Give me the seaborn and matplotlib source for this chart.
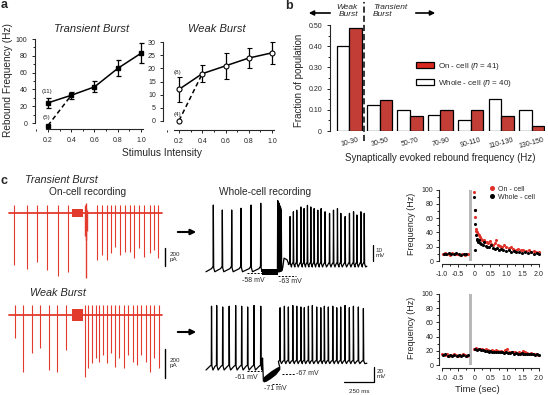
import numpy as np
import pandas as pd
import matplotlib
matplotlib.use('Agg')
import matplotlib.pyplot as plt
import matplotlib.transforms as mtransforms
from matplotlib.patches import Patch
from matplotlib.lines import Line2D
from matplotlib.ticker import MultipleLocator
import seaborn as sns

sns.set_style('ticks')
plt.rcParams['font.family'] = ['Liberation Sans', 'DejaVu Sans']
plt.rcParams['axes.linewidth'] = 0.8

W, H = 548, 395
RED = '#d9281f'
TRACE_RED = '#e23a2c'

# ---------------- panel a: rebound frequency vs stimulus intensity
intensity = [0.2, 0.4, 0.6, 0.8, 1.0]
tb_freq = [24, 33, 43, 65, 83]
tb_err = [6, 4.5, 6.5, 9.5, 12]
tb_low = -3          # cells without rebound at 0.2 (n=5)
wb_freq = [12, 18, 21, 24, 26]
wb_err = [4.8, 3.2, 5, 3.7, 4.3]
wb_low = 0           # cells without rebound at 0.2 (n=4)

# ---------------- panel b: histogram of rebound frequency
bins = ['10-30', '30-50', '50-70', '70-90', '90-110', '110-130', '130-150']
on_cell_frac = [0.488, 0.146, 0.073, 0.098, 0.098, 0.073, 0.024]
whole_cell_frac = [0.400, 0.125, 0.100, 0.075, 0.050, 0.150, 0.100]

# ---------------- panel c: on-cell traces (ms, pA)
oc1_t = [39, 145, 233, 317, 406, 489, 734, 770, 812, 848, 884, 923, 962,
         1001, 1040, 1084, 1123, 1168, 1207, 1240]
oc1_depth = [574, 618, 537, 629, 696, 648, 518, 463, 518, 444, 370, 463, 433,
             426, 492, 381, 481, 444, 407, 500]
oc1_burst_t = [630, 636, 642, 648]
oc1_burst_depth = [250, 722, 300, 200]
oc1_burst_up = [90, 110, 60, 40]
oc1_stim = [520, 617]

oc2_t = [47, 117, 186, 256, 331, 400, 470, 631, 659, 692, 720, 748, 784, 812,
         848, 881, 917, 951, 987, 1026, 1062, 1095, 1137, 1173, 1207, 1243]
oc2_depth = [161, 391, 265, 230, 380, 391, 242, 426, 368, 334, 299, 322, 276,
             334, 265, 357, 299, 368, 276, 322, 345, 276, 322, 391, 299, 368]
oc2_stim = [525, 617]

# whole-cell traces (ms, mV)
wc1_pre_t = [61, 136, 214, 292, 375, 456]
wc1_pre_peak = [-16.8, -19.9, -19.9, -18.8, -16.8, -15.7]
wc1_burst_t = [597, 602, 607, 612, 617, 622, 627]
wc1_burst_peak = [-14, -14.5, -15.5, -16.5, -17.5, -18.5, -20]
wc1_post_t = [700, 728, 756, 790, 817, 845, 873, 901, 931, 959, 992, 1029,
              1062, 1095, 1123, 1159, 1195, 1229, 1257, 1290, 1318]
wc1_post_peak = [-24, -21, -20, -18, -19, -17, -18, -19, -20, -19, -21, -22,
                 -20, -19, -22, -24, -22, -21, -23, -21, -22]

wc2_pre_t = [46, 89, 139, 193, 247, 297, 347, 400, 456]
wc2_pre_peak = [24, 25, 23, 24, 25, 24, 23, 25, 24]
wc2_post_t = [617, 653, 686, 723, 756, 790, 819, 853, 886, 922, 956, 986,
              1019, 1056, 1089, 1122, 1158, 1194, 1228, 1269, 1311]
wc2_post_peak = [22, 24, 23, 25, 24, 23, 22, 24, 25, 23, 22, 24, 23, 24, 22,
                 23, 25, 22, 24, 23, 21]
wc2_hyp_t = [478, 500, 540, 580, 615]
wc2_hyp_top = [-70, -67, -62, -58, -55]
wc2_hyp_bot = [-77, -76, -72, -67, -60]

# instantaneous frequency (s, Hz)
tb_on_t = [-0.98, -0.91, -0.84, -0.76, -0.69, -0.61, -0.53, -0.45, -0.37, -0.29, -0.21,
           0.00, 0.01, 0.02, 0.04, 0.06, 0.08, 0.11, 0.14, 0.17, 0.21, 0.25, 0.29, 0.33,
           0.38, 0.43, 0.48, 0.53, 0.58, 0.63, 0.68, 0.74, 0.80, 0.86, 0.92, 0.99, 1.06,
           1.13, 1.20, 1.28, 1.36, 1.44, 1.52, 1.60, 1.68, 1.76, 1.84, 1.92, 2.00]
tb_on_f = [10, 11, 10, 9, 11, 10, 10, 9, 10, 9, 10,
           97, 72, 62, 45, 42, 40, 38, 36, 33, 31, 29, 30, 27,
           26, 25, 28, 24, 23, 25, 29, 22, 21, 20, 22, 19, 18,
           19, 17, 16, 17, 15, 16, 14, 15, 13, 14, 13, 12]
tb_wc_t = [-0.95, -0.87, -0.79, -0.72, -0.64, -0.56, -0.48, -0.40, -0.33, -0.25,
           0.00, 0.01, 0.02, 0.03, 0.05, 0.07, 0.09, 0.12, 0.15, 0.18, 0.22, 0.26,
           0.30, 0.35, 0.40, 0.45, 0.51, 0.57, 0.63, 0.69, 0.76, 0.83, 0.90, 0.98,
           1.06, 1.14, 1.22, 1.30, 1.39, 1.48, 1.57, 1.66, 1.75, 1.84, 1.93, 2.00]
tb_wc_f = [10, 10, 11, 10, 10, 11, 10, 9, 10, 10,
           90, 71, 52, 15, 36, 31, 29, 27, 30, 25, 24, 22,
           26, 21, 20, 19, 22, 18, 17, 18, 16, 17, 15, 14,
           16, 13, 14, 12, 13, 11, 12, 11, 12, 10, 11, 10]

wb_on_t = [-0.99, -0.92, -0.85, -0.78, -0.71, -0.64, -0.57, -0.50, -0.43, -0.36, -0.29, -0.22,
           0.00, 0.06, 0.12, 0.18, 0.24, 0.30, 0.36, 0.42, 0.48, 0.54, 0.60, 0.66, 0.72,
           0.78, 0.84, 0.90, 0.96, 1.02, 1.08, 1.14, 1.20, 1.26, 1.32, 1.38, 1.44, 1.50,
           1.56, 1.62, 1.68, 1.74, 1.80, 1.86, 1.92, 1.98]
wb_on_f = [15, 14, 15, 13, 14, 15, 14, 13, 14, 15, 14, 13,
           23, 24, 22, 23, 22, 21, 22, 21, 20, 21, 20, 21, 20,
           19, 20, 19, 21, 22, 19, 18, 19, 18, 17, 18, 17, 20,
           19, 17, 16, 17, 16, 15, 15, 14]
wb_wc_t = [-0.97, -0.90, -0.83, -0.76, -0.69, -0.62, -0.55, -0.48, -0.41, -0.34, -0.27, -0.20,
           0.02, 0.08, 0.14, 0.20, 0.26, 0.32, 0.38, 0.44, 0.50, 0.56, 0.62, 0.68, 0.74,
           0.80, 0.86, 0.92, 0.98, 1.04, 1.10, 1.16, 1.22, 1.28, 1.34, 1.40, 1.46, 1.52,
           1.58, 1.64, 1.70, 1.76, 1.82, 1.88, 1.94, 2.00]
wb_wc_f = [14, 15, 13, 14, 13, 14, 13, 14, 13, 14, 13, 14,
           22, 21, 22, 21, 21, 20, 20, 19, 20, 19, 19, 18, 19,
           18, 18, 17, 18, 17, 17, 18, 16, 17, 16, 16, 17, 16,
           16, 15, 16, 15, 15, 14, 15, 14]
stim_t, stim_w = -0.12, 0.07


fig = plt.figure(figsize=(W / 100, H / 100), dpi=100)


def box(x0, y0, x1, y1):
    return fig.add_axes([x0 / W, 1 - y1 / H, (x1 - x0) / W, (y1 - y0) / H])


def F(x, y):
    return (x / W, 1 - y / H)


def ftext(x, y, s, **kw):
    kw.setdefault('ha', 'center')
    kw.setdefault('va', 'center')
    fig.text(x / W, 1 - y / H, s, **kw)


def style_ax(ax, size=5, ypad=3, xpad=3.5):
    sns.despine(ax=ax)
    ax.tick_params(labelsize=size, length=2.2, width=0.7)
    ax.tick_params(axis='y', pad=ypad)
    ax.tick_params(axis='x', pad=xpad)
    ax.tick_params(which='minor', length=1.4, width=0.7)


def spike_train(xs, ys, times, peaks, base, trough):
    for t, p in zip(times, peaks):
        xs += [t - 14, t - 2, t, t + 3, t + 12]
        ys += [base - 1.5, base, p, base - 1, trough]
    return xs, ys


# ================= panel a
axL = box(34.5, 34.8, 146.8, 128.9)
axL.errorbar(intensity, tb_freq, yerr=tb_err, color='k', marker='s', ms=2.6,
             lw=1.1, capsize=1.8, capthick=0.9, elinewidth=0.9)
axL.plot(intensity[:2], [tb_low, tb_freq[1]], ls=(0, (3, 2)), color='k', lw=1.1)
axL.plot(intensity[0], tb_low, marker='s', ms=2.6, color='k')
axL.set_xlim(0.084, 1.05)
axL.set_ylim(-7, 105)
axL.set_yticks([0, 20, 40, 60, 80, 100])
axL.yaxis.set_minor_locator(MultipleLocator(10))
axL.set_xticks(intensity)
axL.xaxis.set_minor_locator(MultipleLocator(0.1))
axL.spines['left'].set_bounds(0, 100)
axL.spines['bottom'].set_bounds(0.18, 1.02)
style_ax(axL)
axL.text(0.19, 38, '(11)', fontsize=4.5, ha='center', va='center')
axL.text(0.185, 7, '(5)', fontsize=4.5, ha='center', va='center')

axR = box(163, 37.2, 277.8, 130)
axR.errorbar(intensity, wb_freq, yerr=wb_err, color='k', marker='o', ms=3.6,
             mfc='white', mec='k', mew=0.8, lw=1.1, capsize=1.8, capthick=0.9,
             elinewidth=0.9)
axR.plot(intensity[:2], [wb_low, wb_freq[1]], ls=(0, (3, 2)), color='k', lw=1.1, zorder=1)
axR.plot(intensity[0], wb_low, marker='o', ms=3.6, mfc='white', mec='k', mew=0.8)
axR.set_xlim(0.062, 1.05)
axR.set_ylim(-3.6, 32)
axR.set_yticks([0, 5, 10, 15, 20, 25, 30])
axR.set_xticks(intensity)
axR.xaxis.set_minor_locator(MultipleLocator(0.1))
axR.spines['left'].set_bounds(0, 30)
axR.spines['bottom'].set_bounds(0.16, 1.02)
style_ax(axR)
axR.text(0.19, 18.4, '(8)', fontsize=4.5, ha='center', va='center')
axR.text(0.185, 2.2, '(4)', fontsize=4.5, ha='center', va='center')

ftext(4, 5, 'a', fontsize=9, fontweight='bold')
ftext(92, 29, 'Transient Burst', fontsize=8, style='italic')
ftext(217, 29, 'Weak Burst', fontsize=8, style='italic')
ftext(8, 80, 'Rebound Frequency (Hz)', fontsize=7.3, rotation=90)
ftext(162, 153, 'Stimulus Intensity', fontsize=7.3)

# ================= panel b
axB = box(330, 25, 545.3, 131)
df_b = pd.DataFrame({'bin': bins * 2,
                     'frac': whole_cell_frac + on_cell_frac,
                     'rec': ['Whole-cell'] * len(bins) + ['On-cell'] * len(bins)})
sns.barplot(data=df_b, x='bin', y='frac', hue='rec', hue_order=['Whole-cell', 'On-cell'],
            palette={'Whole-cell': 'white', 'On-cell': RED}, edgecolor='black',
            linewidth=0.9, width=0.83, gap=0, errorbar=None, legend=False, ax=axB)
axB.set_xlim(-0.635, 6.45)
axB.set_ylim(0, 0.5)
axB.set_yticks([0, 0.1, 0.2, 0.3, 0.4, 0.5])
axB.set_yticklabels(['0', '0.10', '0.20', '0.30', '0.40', '0.50'])
axB.yaxis.set_minor_locator(MultipleLocator(0.05))
axB.set_xlabel('')
axB.set_ylabel('')
style_ax(axB, size=5, ypad=3.5)
axB.spines['bottom'].set_visible(False)
axB.tick_params(axis='x', length=0, pad=4)
axB.set_xticks(range(len(bins)))
axB.set_xticklabels(bins, rotation=15, ha='center', fontsize=5)
trans = mtransforms.blended_transform_factory(axB.transData, axB.transAxes)
axB.plot([0.5, 0.5], [-0.09, 1.22], transform=trans, color='k', lw=1.1,
         ls=(0, (4, 2)), clip_on=False)
handles = [Patch(facecolor=RED, edgecolor='k', lw=0.9),
           Patch(facecolor='white', edgecolor='k', lw=0.9)]
axB.legend(handles, ['On - cell ($n$ = 41)', 'Whole - cell ($n$ = 40)'],
           loc='upper left', bbox_to_anchor=(0.38, 0.7), frameon=False,
           fontsize=5.8, handlelength=2.2, handleheight=0.9,
           labelspacing=0.75, handletextpad=0.5, borderpad=0)

ftext(289, 6, 'b', fontsize=9, fontweight='bold')
ftext(358, 11, 'Weak\nBurst', fontsize=6, style='italic', ha='right', linespacing=1.1)
ftext(373, 11, 'Transient\nBurst', fontsize=6, style='italic', ha='left', linespacing=1.1)
fig.add_artist(matplotlib.patches.FancyArrowPatch(
    F(333, 13), F(306, 13), transform=fig.transFigure, arrowstyle='-|>',
    mutation_scale=7, lw=1.2, color='k'))
fig.add_artist(matplotlib.patches.FancyArrowPatch(
    F(413, 13), F(438, 13), transform=fig.transFigure, arrowstyle='-|>',
    mutation_scale=7, lw=1.2, color='k'))
ftext(299, 80, 'Fraction of population', fontsize=7, rotation=90)
ftext(440, 158, 'Synaptically evoked rebound frequency (Hz)', fontsize=7)

# ================= panel c: on-cell traces
oc1 = box(5, 198, 185, 285)
oc1.plot([0, 1270], [0, 0], color=TRACE_RED, lw=1.3)
oc1.vlines(oc1_t, [-d for d in oc1_depth], 90, color=TRACE_RED, lw=0.8)
oc1.vlines(oc1_burst_t, [-d for d in oc1_burst_depth], oc1_burst_up, color=TRACE_RED, lw=1.0)
oc1.fill_between(oc1_stim, -45, 45, color=TRACE_RED, lw=0)
oc1.plot([1297, 1297], [-390, -590], color='k', lw=1.0)
oc1.text(1335, -490, '200\npA', fontsize=4.5, ha='left', va='center', linespacing=1.0)
oc1.set_xlim(-36, 1463)
oc1.set_ylim(-797, 170)
oc1.axis('off')

oc2 = box(5, 300, 185, 390)
oc2.plot([0, 1270], [0, 0], color=TRACE_RED, lw=1.3)
oc2.vlines(oc2_t, [-d for d in oc2_depth], 70, color=TRACE_RED, lw=0.8)
oc2.fill_between(oc2_stim, -40, 40, color=TRACE_RED, lw=0)
oc2.plot([1297, 1297], [-234, -434], color='k', lw=1.0)
oc2.text(1335, -334, '200\npA', fontsize=4.5, ha='left', va='center', linespacing=1.0)
oc2.set_xlim(-36, 1463)
oc2.set_ylim(-517, 103)
oc2.axis('off')

# whole-cell traces
wc1 = box(200, 198, 385, 290)
xs, ys = spike_train([0], [-58.5], wc1_pre_t, wc1_pre_peak, -55, -58.5)
xs += [464]
ys += [-57.5]
wc1.plot(xs, ys, color='k', lw=0.9)
wc1.fill_between([464, 597], -57, -60.5, color='k', lw=0)
xs, ys = spike_train([592], [-57.5], wc1_burst_t, wc1_burst_peak, -57, -56)
xs += [650, 675, 690]
ys += [-50, -51, -54]
xs, ys = spike_train(xs, ys, wc1_post_t, wc1_post_peak, -52.5, -55.5)
xs += [1340]
ys += [-55]
wc1.plot(xs, ys, color='k', lw=0.9)
wc1.plot([340, 470], [-59.2, -59.2], color='k', lw=0.7, ls=(0, (2, 1.5)))
wc1.plot([600, 750], [-61, -61], color='k', lw=0.7, ls=(0, (2, 1.5)))
wc1.text(392, -64, '-58 mV', fontsize=5, ha='center', va='center')
wc1.text(700, -64.5, '-63 mV', fontsize=5, ha='center', va='center')
wc1.plot([1391, 1391], [-42, -52], color='k', lw=0.9)
wc1.text(1415, -47, '10\nmV', fontsize=4.5, ha='left', va='center', linespacing=1.0)
wc1.set_xlim(-50, 1491)
wc1.set_ylim(-69.9, -12.4)
wc1.axis('off')

wc2 = box(200, 300, 385, 395)
xs, ys = spike_train([0], [-61], wc2_pre_t, wc2_pre_peak, -54.5, -61)
xs += [466, 471, 478]
ys += [-58, -45, -76]
wc2.plot(xs, ys, color='k', lw=0.9)
wc2.fill_between(wc2_hyp_t, wc2_hyp_bot, wc2_hyp_top, color='k', lw=0)
xs, ys = spike_train([612], [-56], wc2_post_t, wc2_post_peak, -48, -52.5)
xs += [1340]
ys += [-52]
wc2.plot(xs, ys, color='k', lw=0.9)
wc2.plot([339, 464], [-62, -62], color='k', lw=0.7, ls=(0, (2, 1.5)))
wc2.plot([630, 741], [-66.3, -66.3], color='k', lw=0.7, ls=(0, (2, 1.5)))
wc2.plot([547, 617], [-79, -79], color='k', lw=0.7, ls=(0, (2, 1.5)))
wc2.text(333, -70.5, '-61 mV', fontsize=5, ha='center', va='center')
wc2.text(750, -66.3, '-67 mV', fontsize=5, ha='left', va='center')
wc2.text(575, -86, '-71 mV', fontsize=5, ha='center', va='center')
wc2.plot([1150, 1400, 1400], [-77, -77, -57], color='k', lw=0.9)
wc2.text(1425, -66, '20\nmV', fontsize=4.5, ha='left', va='center', linespacing=1.0)
wc2.text(1275, -90, '250 ms', fontsize=4.5, ha='center', va='center')
wc2.set_xlim(-50, 1491)
wc2.set_ylim(-94.3, 32.3)
wc2.axis('off')

for yy in (232, 332):
    fig.add_artist(matplotlib.patches.FancyArrowPatch(
        F(175, yy), F(199, yy), transform=fig.transFigure, arrowstyle='-|>',
        mutation_scale=8, lw=1.5, color='k'))

ftext(4, 181, 'c', fontsize=9, fontweight='bold')
ftext(25, 180, 'Transient Burst', fontsize=7.8, style='italic', ha='left')
ftext(88, 192, 'On-cell recording', fontsize=7.3)
ftext(265, 192, 'Whole-cell recording', fontsize=7.3)
ftext(30, 293, 'Weak Burst', fontsize=7.8, style='italic', ha='left')

# frequency plots
for (y0, y1, on_t, on_f, wc_t, wc_f, leg) in [
        (187.6, 264, tb_on_t, tb_on_f, tb_wc_t, tb_wc_f, True),
        (291.8, 368, wb_on_t, wb_on_f, wb_wc_t, wb_wc_f, False)]:
    ax = box(439, y0, 540.6, y1)
    ax.bar(stim_t, 100, width=stim_w, color='#b8b8b8', lw=0)
    sns.scatterplot(x=on_t, y=on_f, color='#e0302a', s=5, linewidth=0, ax=ax)
    sns.scatterplot(x=wc_t, y=wc_f, color='black', s=5, linewidth=0, ax=ax)
    ax.set_xlim(-1.093, 2.05)
    ax.set_ylim(-4.2, 103)
    ax.set_yticks([0, 20, 40, 60, 80, 100])
    ax.yaxis.set_minor_locator(MultipleLocator(10))
    ax.set_xticks([-1, -0.5, 0, 0.5, 1, 1.5, 2])
    ax.set_xticklabels(['-1.0', '-0.5', '0', '0.5', '1.0', '1.5', '2.0'])
    ax.xaxis.set_minor_locator(MultipleLocator(0.25))
    ax.spines['left'].set_bounds(0, 100)
    ax.spines['bottom'].set_bounds(-1, 2)
    style_ax(ax, ypad=2, xpad=2.5)
    if leg:
        hs = [Line2D([], [], marker='o', ls='', color='#e0302a', ms=2.6),
              Line2D([], [], marker='o', ls='', color='black', ms=2.6)]
        ax.legend(hs, ['On - cell', 'Whole - cell'], loc='upper left',
                  bbox_to_anchor=(0.46, 1.07), frameon=False, fontsize=5,
                  handlelength=0.8, handletextpad=0.4, labelspacing=0.15,
                  borderpad=0)

ftext(412, 224, 'Frequency (Hz)', fontsize=6.5, rotation=90)
ftext(412, 328, 'Frequency (Hz)', fontsize=6.5, rotation=90)
ftext(477, 389, 'Time (sec)', fontsize=6.8)

fig.savefig('out.png', dpi=100)
